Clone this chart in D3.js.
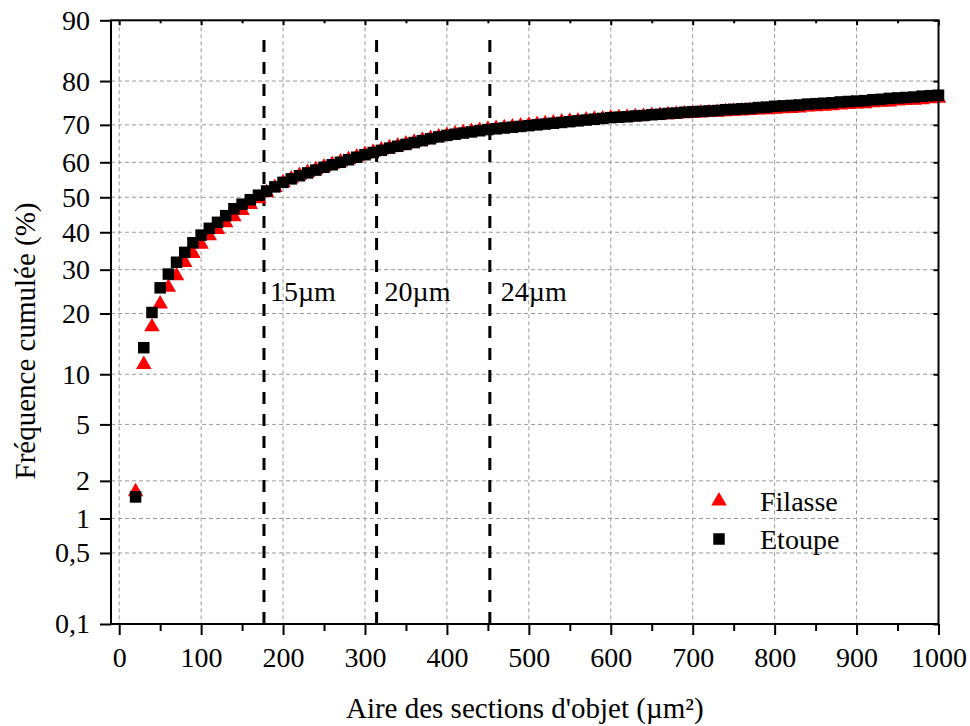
<!DOCTYPE html>
<html><head><meta charset="utf-8">
<script src="https://cdn.jsdelivr.net/npm/d3@7"></script>
<style>
body{margin:0;background:#fff;}
text{font-family:"Liberation Serif","Times New Roman",serif;fill:#000;}
</style></head>
<body><svg id="chart" width="970" height="726"></svg>
<script>
// ---------- data ----------
const xValues = d3.range(20, 1001, 10); // x positions of the sampled points (µm²)
const filasse = [1.65,11.3,17.4,22.0,25.7,28.5,31.8,34.2,36.7,39.0,40.8,42.7,44.4,46.2,47.9,49.6,51.3,52.8,54.2,55.3,
56.3,57.1,57.9,58.7,59.4,60.1,60.8,61.5,62.2,62.8,63.4,64.0,64.5,65.0,65.5,66.0,66.5,66.9,67.3,67.7,
68.0,68.3,68.6,68.9,69.1,69.3,69.5,69.7,69.9,70.1,70.3,70.5,70.7,70.9,71.0,71.2,71.4,71.5,71.7,71.8,
71.9,72.0,72.1,72.3,72.4,72.5,72.6,72.7,72.8,72.9,73.0,73.1,73.2,73.3,73.4,73.5,73.6,73.7,73.8,73.9,
74.0,74.1,74.3,74.4,74.5,74.6,74.8,74.9,75.0,75.1,75.3,75.4,75.5,75.7,75.8,75.9,76.0,76.2,76.3];
const etoupe = [1.5,13.8,20.2,25.6,28.9,31.9,34.5,37.1,39.2,41.1,42.8,44.7,46.7,48.0,49.3,50.6,51.8,53.0,54.3,55.3,
56.2,57.0,57.8,58.6,59.3,60.0,60.7,61.4,62.1,62.7,63.3,63.9,64.4,64.9,65.4,65.9,66.4,66.9,67.3,67.6,
67.9,68.2,68.5,68.8,69.0,69.2,69.4,69.6,69.8,70.0,70.2,70.4,70.6,70.8,71.0,71.2,71.4,71.6,71.8,71.9,
72.0,72.2,72.3,72.5,72.6,72.8,72.9,73.1,73.2,73.3,73.4,73.5,73.7,73.8,73.9,74.0,74.2,74.3,74.5,74.6,
74.7,74.8,75.0,75.1,75.2,75.3,75.5,75.6,75.7,75.8,76.0,76.1,76.3,76.4,76.5,76.6,76.8,76.9,77.0];
const seriesNames = ["Filasse","Etoupe"];
const seriesColors = ["#ff0000","#000000"];
const xTicks = [0,100,200,300,400,500,600,700,800,900,1000];
const xMinorTicks = [50,150,250,350,450,550,650,750,850,950];
const yTicks = [0.1,0.5,1,2,5,10,20,30,40,50,60,70,80,90];
const yTickLabels = ["0,1","0,5","1","2","5","10","20","30","40","50","60","70","80","90"];
const diameters = [15,20,24];          // µm, reference lines at circle area
const refLabels = ["15µm","20µm","24µm"];
const xTitle = "Aire des sections d'objet (µm²)";
const yTitle = "Fréquence cumulée (%)";

// ---------- probability (probit) transform ----------
function probit(p){
  const a=[-3.969683028665376e+01,2.209460984245205e+02,-2.759285104469687e+02,1.383577518672690e+02,-3.066479806614716e+01,2.506628277459239e+00];
  const b=[-5.447609879822406e+01,1.615858368580409e+02,-1.556989798598866e+02,6.680131188771972e+01,-1.328068155288572e+01];
  const c=[-7.784894002430293e-03,-3.223964580411365e-01,-2.400758277161838e+00,-2.549732539343734e+00,4.374664141464968e+00,2.938163982698783e+00];
  const d=[7.784695709041462e-03,3.224671290700398e-01,2.445134137142996e+00,3.754408661907416e+00];
  const pl=0.02425, ph=1-pl; let q,r;
  if(p<pl){q=Math.sqrt(-2*Math.log(p));return (((((c[0]*q+c[1])*q+c[2])*q+c[3])*q+c[4])*q+c[5])/((((d[0]*q+d[1])*q+d[2])*q+d[3])*q+1);}
  if(p<=ph){q=p-0.5;r=q*q;return (((((a[0]*r+a[1])*r+a[2])*r+a[3])*r+a[4])*r+a[5])*q/(((((b[0]*r+b[1])*r+b[2])*r+b[3])*r+b[4])*r+1);}
  q=Math.sqrt(-2*Math.log(1-p));return -(((((c[0]*q+c[1])*q+c[2])*q+c[3])*q+c[4])*q+c[5])/((((d[0]*q+d[1])*q+d[2])*q+d[3])*q+1);
}
const pz = v => probit(v/100);

// ---------- layout ----------
const L=111, R=938.5, T=20.3, B=624;
const FS=28, TFS=29;
const svg = d3.select("#chart");
const x = d3.scaleLinear().domain([-10,1000]).range([L,R]);
const yz = d3.scaleLinear().domain([pz(0.1), pz(90)]).range([B,T]);
const y = v => yz(pz(v));

// grid
const grid = svg.append("g").attr("stroke","#9a9a9a").attr("stroke-width",1).attr("stroke-dasharray","4,3");
grid.selectAll("line.gx").data(xTicks.filter(t=>t<1000)).join("line")
  .attr("x1",d=>x(d)).attr("x2",d=>x(d)).attr("y1",T).attr("y2",B);
grid.selectAll("line.gy").data(yTicks.filter(t=>t>0.1)).join("line")
  .attr("x1",L).attr("x2",R).attr("y1",d=>y(d)).attr("y2",d=>y(d));

// reference lines
const refs = diameters.map((dm,i)=>({area:Math.PI*(dm/2)*(dm/2), label:refLabels[i]}));
const labelOffsets=[6,8,11];
svg.append("g").selectAll("line").data(refs).join("line")
  .attr("x1",d=>x(d.area)).attr("x2",d=>x(d.area)).attr("y1",40).attr("y2",B)
  .attr("stroke","#000").attr("stroke-width",3).attr("stroke-dasharray","12,10");
svg.append("g").selectAll("text").data(refs).join("text")
  .attr("x",(d,i)=>x(d.area)+labelOffsets[i]).attr("y",301)
  .attr("font-size",FS).text(d=>d.label);

// markers
const tri = d3.symbol().type(d3.symbolTriangle).size(104);
svg.append("g").selectAll("path").data(xValues.map((v,i)=>[v,filasse[i]])).join("path")
  .attr("d",tri).attr("transform",d=>`translate(${x(d[0])},${y(d[1])})`).attr("fill",seriesColors[0]);
const sq = 11.5;
svg.append("g").selectAll("rect").data(xValues.map((v,i)=>[v,etoupe[i]])).join("rect")
  .attr("x",d=>x(d[0])-sq/2).attr("y",d=>y(d[1])-sq/2).attr("width",sq).attr("height",sq)
  .attr("fill",seriesColors[1]);

// axes
const axStyle = g => { g.select(".domain").remove(); g.selectAll("line").attr("stroke","#000").attr("stroke-width",2);
  g.selectAll("text").attr("font-size",FS); };
svg.append("g").attr("transform",`translate(0,${B})`)
  .call(d3.axisBottom(x).tickValues(xTicks).tickSize(11).tickPadding(12).tickFormat(d3.format("d"))).call(axStyle);
svg.append("g").attr("transform",`translate(0,${B})`)
  .call(d3.axisBottom(x).tickValues(xMinorTicks).tickSize(7).tickFormat("")).call(axStyle);
svg.append("g").attr("transform",`translate(0,${T})`)
  .call(d3.axisBottom(x).tickValues(xTicks).tickSize(5).tickFormat("")).call(axStyle);
svg.append("g").attr("transform",`translate(0,${T})`)
  .call(d3.axisBottom(x).tickValues(xMinorTicks).tickSize(3).tickFormat("")).call(axStyle);
svg.append("g").attr("transform",`translate(${L},0)`)
  .call(d3.axisLeft(yz).tickValues(yTicks.map(pz)).tickSize(11).tickPadding(10).tickFormat((d,i)=>yTickLabels[i])).call(axStyle);
svg.append("g").attr("transform",`translate(${R},0)`)
  .call(d3.axisLeft(yz).tickValues(yTicks.map(pz)).tickSize(5).tickFormat("")).call(axStyle);
// frame
svg.append("rect").attr("x",L).attr("y",T).attr("width",R-L).attr("height",B-T)
  .attr("fill","none").attr("stroke","#000").attr("stroke-width",2);

// titles
svg.append("text").attr("x",(L+R)/2).attr("y",718).attr("text-anchor","middle").attr("font-size",TFS).text(xTitle);
svg.append("text").attr("transform","translate(35,341) rotate(-90)").attr("text-anchor","middle").attr("font-size",TFS).text(yTitle);

// legend
const lg = svg.append("g");
lg.append("path").attr("d",tri).attr("transform","translate(719,501)").attr("fill",seriesColors[0]);
lg.append("text").attr("x",760).attr("y",511).attr("font-size",FS).text(seriesNames[0]);
lg.append("rect").attr("x",719-sq/2).attr("y",539-sq/2).attr("width",sq).attr("height",sq).attr("fill",seriesColors[1]);
lg.append("text").attr("x",760).attr("y",549).attr("font-size",FS).text(seriesNames[1]);
</script></body></html>
